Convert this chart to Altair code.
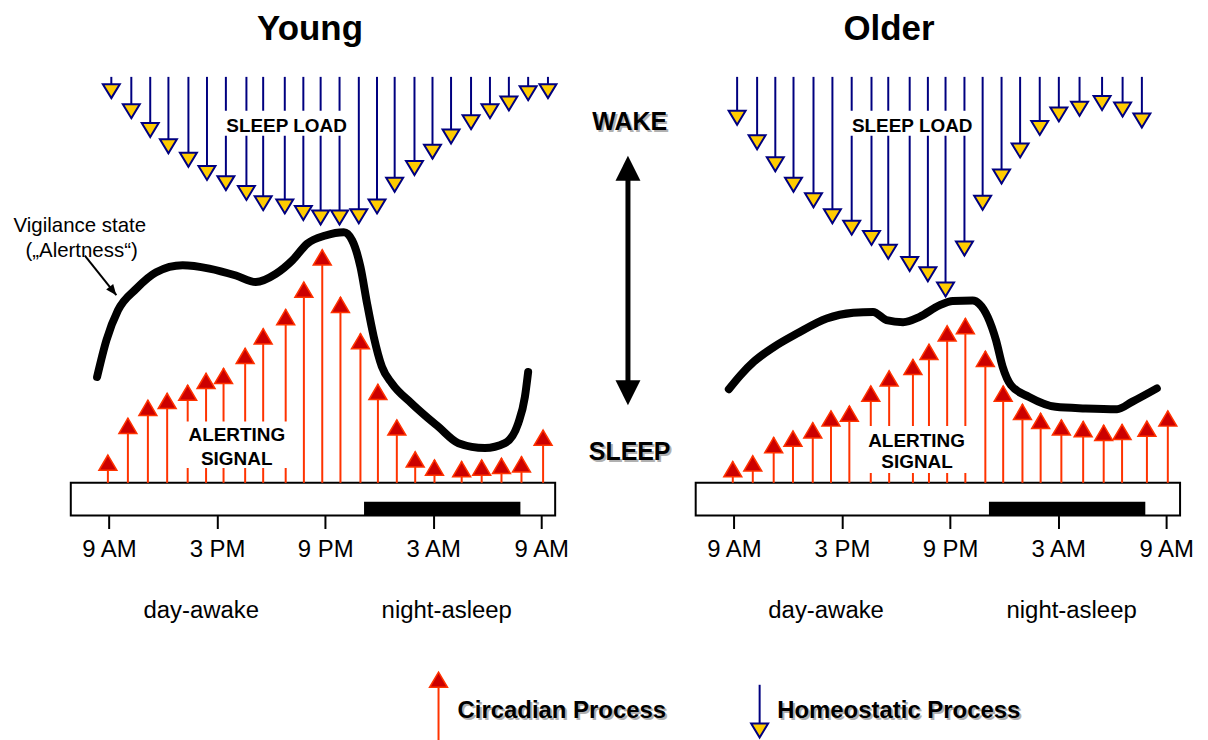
import altair as alt
import pandas as pd

# ---------------- data (hours after 9 AM, level in arbitrary units) ----------------
TICK_HOURS = [0, 6, 12, 18, 24]
TICK_LABELS = ["9 AM", "3 PM", "9 PM", "3 AM", "9 AM"]

BOX_START, BOX_END = -2.12, 24.77
SLEEP_START, SLEEP_END = 14.16, 22.84

YOUNG_CIRC_HOURS = [-0.06, 1.05, 2.16, 3.23, 4.37, 5.39, 6.36, 7.56, 8.56, 9.81, 10.82, 11.84,
                    12.85, 13.96, 14.93, 15.98, 17.00, 18.07, 19.58, 20.69, 21.79, 22.90, 24.10]
YOUNG_CIRC_LEVEL = [6.8, 15.8, 20.2, 21.9, 23.9, 26.8, 28.0, 32.9, 37.7, 42.4, 49.1, 57.0,
                    45.4, 36.5, 24.1, 15.4, 7.6, 5.6, 5.2, 5.6, 6.0, 6.4, 12.9]

YOUNG_HOMEO_HOURS = [0.13, 1.24, 2.29, 3.30, 4.41, 5.44, 6.49, 7.63, 8.56, 9.76, 10.79, 11.75,
                     12.80, 13.87, 14.88, 15.86, 16.96, 17.96, 18.99, 20.10, 21.15, 22.20, 23.27, 24.37]
YOUNG_HOMEO_LEVEL = [94.1, 89.2, 84.6, 80.6, 77.3, 74.1, 71.6, 69.2, 66.7, 65.9, 64.3, 63.2,
                     63.2, 63.5, 65.9, 71.2, 75.3, 79.3, 83.0, 86.5, 89.2, 91.1, 93.6, 94.1]

YOUNG_ALERT_HOURS = [-0.66, -0.14, 0.50, 1.52, 2.62, 4.09, 5.57, 7.05, 8.15, 9.26, 10.18, 11.01,
                     12.02, 13.04, 13.50, 13.96, 14.33, 14.70, 15.15, 15.71, 16.81, 18.29, 19.40,
                     20.87, 21.98, 22.72, 23.09, 23.27]
YOUNG_ALERT_LEVEL = [25.9, 34.9, 42.2, 47.5, 51.5, 53.2, 52.4, 50.7, 49.1, 51.1, 54.4, 58.5,
                     60.5, 61.3, 59.3, 52.8, 43.8, 35.7, 28.4, 24.3, 19.4, 13.7, 9.7,
                     8.5, 9.7, 14.6, 21.0, 27.1]

OLDER_CIRC_HOURS = [-0.06, 1.05, 2.21, 3.28, 4.38, 5.39, 6.41, 7.60, 8.62, 9.94, 10.83, 11.84,
                    12.85, 13.96, 14.95, 16.02, 17.03, 18.18, 19.39, 20.53, 21.55, 22.93, 24.09]
OLDER_CIRC_LEVEL = [5.2, 6.6, 11.1, 12.7, 14.7, 17.6, 18.8, 23.7, 27.4, 30.2, 33.9, 38.4,
                    40.2, 32.2, 23.7, 19.2, 17.0, 15.4, 15.0, 14.1, 14.3, 15.1, 17.6]

OLDER_HOMEO_HOURS = [0.18, 1.29, 2.30, 3.31, 4.42, 5.47, 6.54, 7.64, 8.57, 9.76, 10.77, 11.75,
                     12.80, 13.81, 14.86, 15.89, 16.98, 18.04, 19.19, 20.44, 21.58, 22.65]
OLDER_HOMEO_LEVEL = [87.6, 81.6, 76.2, 71.2, 67.4, 63.5, 60.7, 58.2, 54.8, 51.8, 49.3, 45.6,
                     55.6, 66.8, 73.2, 79.6, 85.1, 88.4, 89.8, 91.2, 89.6, 86.9]

OLDER_ALERT_HOURS = [-0.28, 0.36, 1.10, 2.21, 3.50, 5.15, 6.63, 7.73, 8.47, 9.39, 10.31, 11.41,
                     12.15, 13.26, 13.62, 14.09, 14.55, 14.92, 15.38, 16.39, 17.86, 19.52, 21.27,
                     22.10, 23.48]
OLDER_ALERT_LEVEL = [22.9, 26.3, 29.6, 33.2, 36.5, 40.2, 41.6, 41.8, 39.8, 39.3, 40.6, 43.4,
                     44.5, 44.6, 43.8, 40.6, 34.9, 28.4, 23.9, 21.0, 18.6, 18.2, 18.0,
                     19.8, 23.1]

LEGEND_NAMES = ["Circadian Process", "Homeostatic Process"]

# ---------------- styling ----------------
FONT = "Liberation Sans"
CIRC_STEM = "#ff3300"
CIRC_FILL = "#cc0000"
HOMEO_LINE = "#000080"
HOMEO_FILL = "#ffcc00"
TRI_UP = "M0,0L1,1.7L-1,1.7Z"
TRI_DOWN = "M0,0L1,-1.65L-1,-1.65Z"
BIG_UP = "M0,0L1,2L-1,2Z"
BIG_DOWN = "M0,0L1,-2L-1,-2Z"
HEAD = "M0,0L1,2.4L-1,2.4Z"

Y_MIN, Y_MAX = -8, 100
HOMEO_TOP = 99.3
PW, PH, MW = 486, 443, 141

XSCALE = alt.Scale(domain=[BOX_START, BOX_END], nice=False, zero=False)
YSCALE = alt.Scale(domain=[Y_MIN, Y_MAX], nice=False, zero=False)
label_expr = " : ".join(f"datum.value == {h} ? '{l}'" for h, l in zip(TICK_HOURS, TICK_LABELS)) + " : ''"
XAXIS = alt.Axis(values=TICK_HOURS, labelExpr=label_expr, domain=False, grid=False,
                 ticks=True, tickSize=13, tickWidth=2, tickColor="black",
                 labelFont=FONT, labelFontSize=24, labelColor="black", labelPadding=9,
                 labelFlush=False, labelOverlap=False)


def X(f):
    return alt.X(f, type="quantitative", scale=XSCALE, axis=XAXIS, title=None)


def Y(f):
    return alt.Y(f, type="quantitative", scale=YSCALE, axis=None)


def text_layer(rows, size, weight="normal"):
    df = pd.DataFrame(rows, columns=["h", "lv", "t"])
    m = alt.Chart(df).mark_text(font=FONT, fontSize=size, fontWeight=weight, align="center",
                                baseline="middle", color="black")
    return m.encode(x=X("h"), y=Y("lv"), text="t:N")


def panel(title, title_dx, circ_h, circ_l, homeo_h, homeo_l, alert_h, alert_l,
          gaps, sleep_load_at, alerting_at, extra):
    box = alt.Chart(pd.DataFrame({"a": [BOX_START], "b": [BOX_END], "c": [Y_MIN], "d": [0]})).mark_rect(
        fill="white", stroke="black", strokeWidth=2).encode(x=X("a"), x2="b", y=Y("c"), y2="d")
    bar = alt.Chart(pd.DataFrame({"a": [SLEEP_START], "b": [SLEEP_END], "c": [Y_MIN], "d": [-4.6]})).mark_rect(
        fill="black").encode(x=X("a"), x2="b", y=Y("c"), y2="d")

    circ = pd.DataFrame({"h": circ_h, "tip": circ_l})
    circ["base"] = 0.0
    homeo = pd.DataFrame({"h": homeo_h, "tip": homeo_l})
    homeo["top"] = HOMEO_TOP
    alert = pd.DataFrame({"h": alert_h, "lv": alert_l, "i": list(range(len(alert_h)))})

    circ_stem = alt.Chart(circ).mark_rule(color=CIRC_STEM, strokeWidth=2).encode(
        x=X("h"), y=Y("base"), y2="tip")
    homeo_stem = alt.Chart(homeo).mark_rule(color=HOMEO_LINE, strokeWidth=2).encode(
        x=X("h"), y=Y("top"), y2="tip")
    gap = alt.Chart(pd.DataFrame(gaps, columns=["a", "b", "c", "d"])).mark_rect(fill="white").encode(
        x=X("a"), x2="b", y=Y("c"), y2="d")
    circ_tri = alt.Chart(circ).mark_point(shape=TRI_UP, size=324, filled=True, fill=CIRC_FILL,
                                          stroke=CIRC_STEM, strokeWidth=1.5, opacity=1).encode(
        x=X("h"), y=Y("tip"))
    homeo_tri = alt.Chart(homeo).mark_point(shape=TRI_DOWN, size=289, filled=True, fill=HOMEO_FILL,
                                            stroke=HOMEO_LINE, strokeWidth=2, opacity=1).encode(
        x=X("h"), y=Y("tip"))
    line = alt.Chart(alert).mark_line(color="black", strokeWidth=8, interpolate="monotone",
                                      strokeCap="round", strokeJoin="round").encode(
        x=X("h"), y=Y("lv"), order="i:Q")

    labels = text_layer([sleep_load_at + ["SLEEP LOAD"],
                         alerting_at[0] + ["ALERTING"],
                         alerting_at[1] + ["SIGNAL"]], 19, "bold")
    phases = text_layer([[5.12, -31.4, "day-awake"], [18.75, -31.4, "night-asleep"]], 24)

    layers = [box, bar, circ_stem, homeo_stem, gap, circ_tri, homeo_tri, line, labels, phases] + extra
    return alt.layer(*layers).properties(
        width=PW, height=PH,
        title=alt.TitleParams(text=title, font=FONT, fontSize=35, fontWeight="bold", color="black",
                              anchor="middle", frame="group", offset=27, dx=title_dx))


# vigilance annotation (young only)
vig_text = text_layer([[-1.62, 62.9, "Vigilance state"], [-1.52, 56.8, "(\u201eAlertness\u201c)"]], 20.5)
vig_rule = alt.Chart(pd.DataFrame({"a": [-1.34], "b": [0.41], "c": [55.6], "d": [45.9]})).mark_rule(
    color="black", strokeWidth=2).encode(x=X("a"), x2="b", y=Y("c"), y2="d")
vig_head = alt.Chart(pd.DataFrame({"a": [0.41], "c": [45.9]})).mark_point(
    shape=HEAD, size=81, filled=True, color="black", opacity=1, angle=141.6).encode(x=X("a"), y=Y("c"))

young = panel("Young", -3, YOUNG_CIRC_HOURS, YOUNG_CIRC_LEVEL, YOUNG_HOMEO_HOURS, YOUNG_HOMEO_LEVEL,
              YOUNG_ALERT_HOURS, YOUNG_ALERT_LEVEL,
              gaps=[[6.0, 13.3, 84.9, 91.0], [3.8, 10.33, 3.6, 15.0]],
              sleep_load_at=[9.86, 87.3], alerting_at=[[7.10, 11.7], [7.09, 5.9]],
              extra=[vig_rule, vig_head, vig_text])

older = panel("Older", -49, OLDER_CIRC_HOURS, OLDER_CIRC_LEVEL, OLDER_HOMEO_HOURS, OLDER_HOMEO_LEVEL,
              OLDER_ALERT_HOURS, OLDER_ALERT_LEVEL,
              gaps=[[6.08, 13.26, 84.9, 91.0], [7.0, 13.44, 2.4, 13.9]],
              sleep_load_at=[9.9, 87.3], alerting_at=[[10.14, 10.3], [10.17, 5.0]],
              extra=[])

# ---------------- middle: WAKE / SLEEP double arrow, plus the legend below ----------------
MX = alt.Scale(domain=[0, 1], nice=False, zero=False)


def MXe(f):
    return alt.X(f, type="quantitative", scale=MX, axis=None)


def MYe(f):
    return alt.Y(f, type="quantitative", scale=YSCALE, axis=None)


def shadow_text(df, size, align):
    sh = alt.Chart(df).mark_text(font=FONT, fontSize=size, fontWeight="bold", color="#b0b0b0",
                                 align=align, baseline="middle", dx=2, dy=2).encode(
        x=MXe("x"), y=MYe("y"), text="t:N")
    tx = alt.Chart(df).mark_text(font=FONT, fontSize=size, fontWeight="bold", color="black",
                                 align=align, baseline="middle").encode(
        x=MXe("x"), y=MYe("y"), text="t:N")
    return [sh, tx]


state_df = pd.DataFrame({"x": [0.53, 0.53], "y": [88.3, 7.6], "t": ["WAKE", "SLEEP"]})
darrow = alt.Chart(pd.DataFrame({"x": [0.518], "a": [22.0], "b": [77.0]})).mark_rule(
    color="black", strokeWidth=5).encode(x=MXe("x"), y=MYe("a"), y2="b")
dhead_up = alt.Chart(pd.DataFrame({"x": [0.518], "y": [80.0]})).mark_point(
    shape=BIG_UP, size=625, filled=True, color="black", opacity=1).encode(x=MXe("x"), y=MYe("y"))
dhead_dn = alt.Chart(pd.DataFrame({"x": [0.518], "y": [19.0]})).mark_point(
    shape=BIG_DOWN, size=625, filled=True, color="black", opacity=1).encode(x=MXe("x"), y=MYe("y"))

# legend glyphs (positioned in the middle panel's coordinate frame, below the plots)
leg_text_df = pd.DataFrame({"x": [-0.695, 1.58], "y": [-55.8, -55.8], "t": LEGEND_NAMES})
leg_c_stem = alt.Chart(pd.DataFrame({"x": [-0.83], "a": [-63.0], "b": [-49.0]})).mark_rule(
    color=CIRC_STEM, strokeWidth=2).encode(x=MXe("x"), y=MYe("a"), y2="b")
leg_c_tri = alt.Chart(pd.DataFrame({"x": [-0.83], "y": [-46.3]})).mark_point(
    shape=TRI_UP, size=324, filled=True, fill=CIRC_FILL, stroke=CIRC_STEM, strokeWidth=1.5,
    opacity=1).encode(x=MXe("x"), y=MYe("y"))
leg_h_stem = alt.Chart(pd.DataFrame({"x": [1.455], "a": [-49.4], "b": [-59.0]})).mark_rule(
    color=HOMEO_LINE, strokeWidth=2).encode(x=MXe("x"), y=MYe("a"), y2="b")
leg_h_tri = alt.Chart(pd.DataFrame({"x": [1.455], "y": [-62.3]})).mark_point(
    shape=TRI_DOWN, size=289, filled=True, fill=HOMEO_FILL, stroke=HOMEO_LINE, strokeWidth=2,
    opacity=1).encode(x=MXe("x"), y=MYe("y"))

middle = alt.layer(darrow, dhead_up, dhead_dn, *shadow_text(state_df, 25, "center"),
                   leg_c_stem, leg_c_tri, leg_h_stem, leg_h_tri,
                   *shadow_text(leg_text_df, 24, "left")).properties(width=MW, height=PH)

chart = alt.hconcat(young, middle, older, spacing=0, bounds="flush").properties(
    padding={"left": 5, "top": 3, "right": 5, "bottom": 0}
).configure_view(strokeWidth=0)

chart.save("out.html", embed_options={"renderer": "svg", "actions": False})
